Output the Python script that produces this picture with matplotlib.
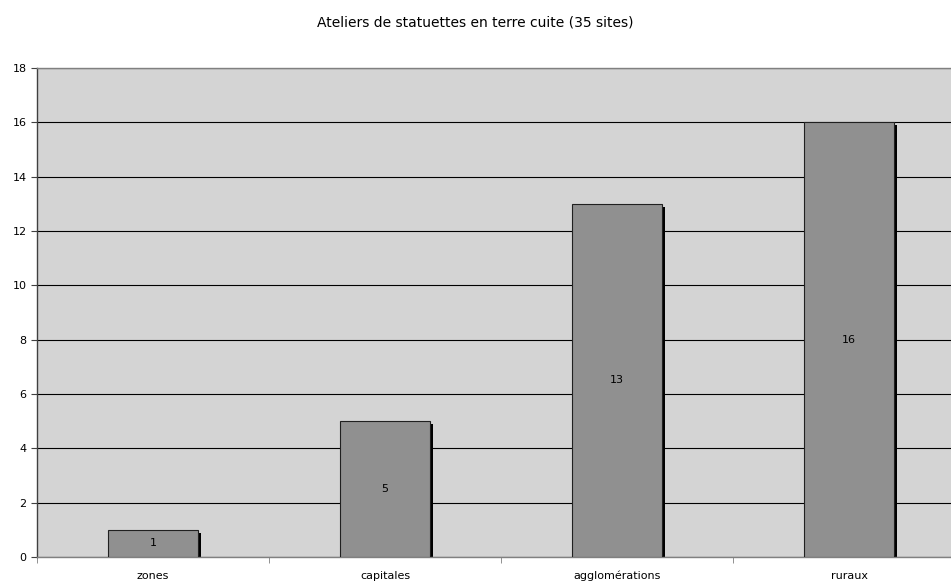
import matplotlib.pyplot as plt
import numpy as np

# donnees
categories = ["zones", "capitales", "agglomérations", "ruraux"]
valeurs = [1, 5, 13, 16]
titre = "Ateliers de statuettes en terre cuite (35 sites)"

fig = plt.figure(figsize=(9.51, 5.85), dpi=100)
# la zone du graphique depasse a droite (comme sur l'original)
ax = fig.add_axes([37 / 951, 28 / 585, 928 / 951, 489 / 585])
ax.set_facecolor("#d4d4d4")

x = np.arange(len(categories))
largeur = 0.39

# ombre noire a droite des barres
dx = 3 / 232
ax.bar(x + dx, np.array(valeurs) - 0.11, width=largeur, color="black", zorder=2)
barres = ax.bar(x, valeurs, width=largeur, color="#909090", edgecolor="#202020",
                linewidth=0.8, zorder=3)

for xi, v in zip(x, valeurs):
    ax.text(xi, v / 2, str(v), ha="center", va="center", fontsize=8, zorder=4)

ax.set_xlim(-0.5, len(categories) - 0.5)
ax.set_ylim(0, 18)
ax.set_yticks(range(0, 19, 2))
ax.yaxis.grid(True, color="black", linewidth=0.8, zorder=1)
ax.set_axisbelow(True)

ax.set_xticks(x)
ax.set_xticklabels(categories, fontsize=8)
ax.set_xticks(np.arange(-0.5, len(categories), 1), minor=True)
ax.tick_params(axis="x", which="major", length=0, pad=10)
ax.tick_params(axis="x", which="minor", length=4, color="#808080")
ax.tick_params(axis="y", labelsize=8, length=4, color="#404040")

for s in ax.spines.values():
    s.set_color("#808080")
    s.set_linewidth(1)
ax.spines["left"].set_color("#404040")
ax.spines["right"].set_visible(False)

fig.text(0.5, 1 - 22 / 585, titre, ha="center", va="center", fontsize=10)

fig.savefig("out.png", dpi=100)
